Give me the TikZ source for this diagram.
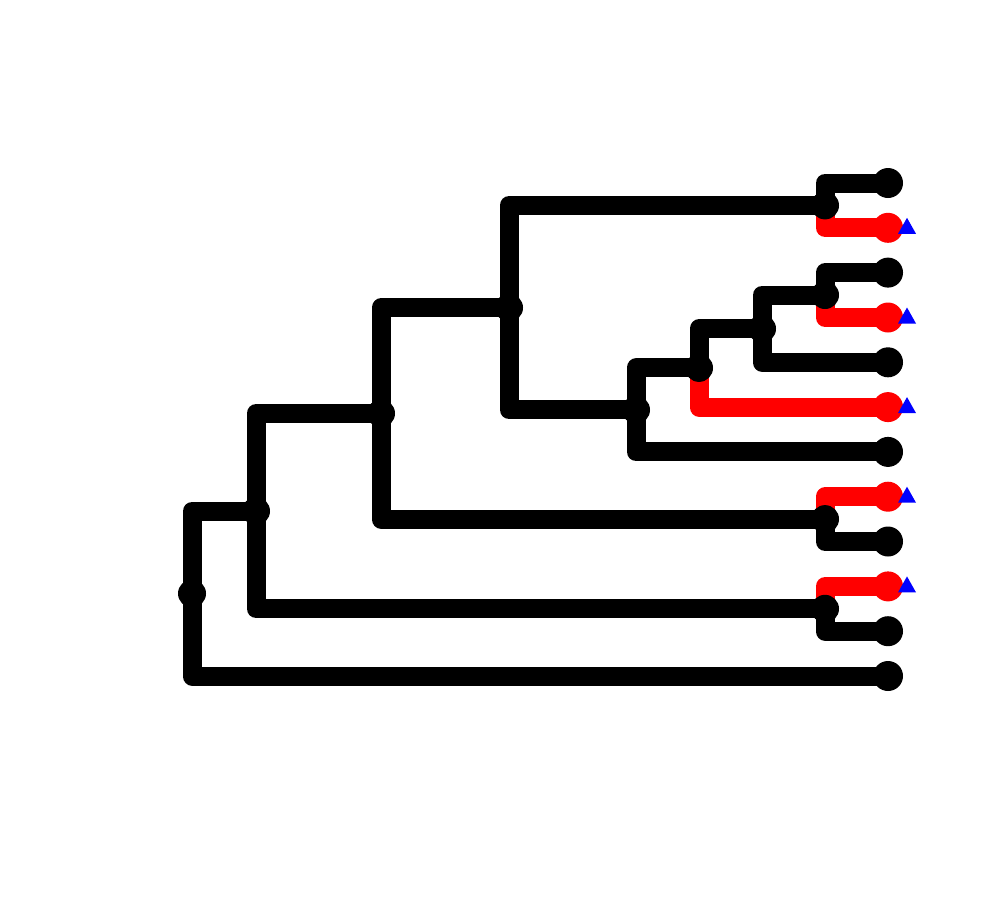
\documentclass[tikz,border=0pt]{standalone}
\begin{document}
\begin{tikzpicture}[x=1pt,y=-1pt,
  edge/.style={line width=19pt,line cap=round,line join=round,draw=black},
  rededge/.style={edge,draw=red},
  dotb/.style={fill=black},
  dotr/.style={fill=red},
  tipmark/.style={fill=blue}]
\useasboundingbox (0,0) rectangle (1000,900);
\fill[white] (0,0) rectangle (1000,900);
% tips
\coordinate (t1) at (888,183);
\coordinate (t2) at (888,227.8);
\coordinate (t3) at (888,272.6);
\coordinate (t4) at (888,317.5);
\coordinate (t5) at (888,362.3);
\coordinate (t6) at (888,407.1);
\coordinate (t7) at (888,451.9);
\coordinate (t8) at (888,496.7);
\coordinate (t9) at (888,541.5);
\coordinate (t10) at (888,586.4);
\coordinate (t11) at (888,631.2);
\coordinate (t12) at (888,676);
% internal nodes
\coordinate (n12) at (825,205.4);
\coordinate (n34) at (825,295);
\coordinate (n35) at (762,328.7);
\coordinate (n36) at (699,367.9);
\coordinate (n37) at (636,409.9);
\coordinate (n17) at (509,307.7);
\coordinate (n89) at (825,519.1);
\coordinate (n19) at (381,413.4);
\coordinate (n1011) at (825,608.8);
\coordinate (n111) at (256,511.1);
\coordinate (root) at (192,593.5);
% edges
\draw[edge] (root) |- (n111);
\draw[edge] (root) |- (t12);
\draw[edge] (n111) |- (n19);
\draw[edge] (n111) |- (n1011);
\draw[edge] (n1011) |- (t11);
\draw[edge] (n19) |- (n17);
\draw[edge] (n19) |- (n89);
\draw[edge] (n89) |- (t9);
\draw[edge] (n17) |- (n12);
\draw[edge] (n17) |- (n37);
\draw[edge] (n12) |- (t1);
\draw[edge] (n37) |- (n36);
\draw[edge] (n37) |- (t7);
\draw[edge] (n36) |- (n35);
\draw[edge] (n35) |- (n34);
\draw[edge] (n35) |- (t5);
\draw[edge] (n34) |- (t3);
\draw[rededge] (n12) |- (t2);
\draw[rededge] (n34) |- (t4);
\draw[rededge] (n36) |- (t6);
\draw[rededge] (n89) |- (t8);
\draw[rededge] (n1011) |- (t10);
% dots
\foreach \n in {root,n111,n19,n17,n37,n36,n35,n34,n12,n89,n1011}
  \fill[dotb] (\n) circle (14);
\foreach \n in {t1,t3,t5,t7,t9,t11,t12}
  \fill[dotb] (\n) circle (15);
\foreach \n in {t2,t4,t6,t8,t10}
  \fill[dotr] (\n) circle (15);
% triangles
\foreach \n in {t2,t4,t6,t8,t10}
  \fill[tipmark] ([shift={(10,6)}]\n) -- ++(18,0) -- ++(-9,-16) -- cycle;
\end{tikzpicture}
\end{document}
